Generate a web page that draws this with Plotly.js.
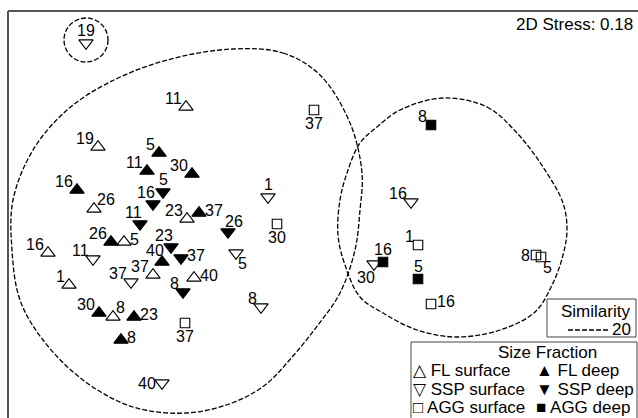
<!DOCTYPE html>
<html>
<head>
<meta charset="utf-8">
<script src="https://cdn.plot.ly/plotly-3.0.1.min.js"></script>
<style>html,body{margin:0;padding:0;background:#fff;}#chart{width:638px;height:418px;}</style>
</head>
<body>
<div id="chart"></div>
<script>
// ---- nMDS ordination coordinates (plot units) ----
const flSurfX   = [186, 98, 94, 187, 124, 48, 69, 153, 194, 113];
const flSurfY   = [107, 147, 209, 219, 242, 253, 285, 275, 278, 317];
const flSurfLab = ['11','19','26','23','5','16','1','37','40','8'];

const flDeepX   = [159, 147, 192, 77, 199, 111, 162, 99, 134, 121];
const flDeepY   = [153, 171, 174, 190, 213, 242, 262, 313, 317, 340];
const flDeepLab = ['5','11','30','16','37','26','40','30','23','8'];

const sspSurfX   = [86, 268, 93, 236, 131, 261, 162, 411, 374];
const sspSurfY   = [43, 197, 259, 253, 282, 307, 383, 202, 264];
const sspSurfLab = ['19','1','11','5','37','8','40','16','30'];

const sspDeepX   = [163, 153, 140, 228, 171, 181, 183];
const sspDeepY   = [192, 204, 224, 232, 247, 258, 292];
const sspDeepLab = ['5','16','11','26','23','37','8'];

const aggSurfX   = [314, 277, 185, 418, 536, 541, 431];
const aggSurfY   = [110, 224, 323, 245, 255, 257, 304];
const aggSurfLab = ['37','30','37','1','8','5','16'];

const aggDeepX   = [431, 383, 418];
const aggDeepY   = [125, 262, 279];
const aggDeepLab = ['8','16','5'];

// label placement codes (style, not data)
const flSurfPos  = ['tl','tl','tr','tl','r','tl','tl','tl','r','tr'];
const flDeepPos  = ['tl','tl','tl','tl','r','tl','tlc','tl','r','r'];
const sspSurfPos = ['tc','tc','tl','br','tl','tl','l','tl','bl'];
const sspDeepPos = ['tc','tlc','tlc','tcr','tlc','r','tl'];
const aggSurfPos = ['b','b','b','tl','l','br','r'];
const aggDeepPos = ['tl','tc','tc'];

// 20% similarity cluster outlines
const clusterAX = [233, 283, 320, 350, 362, 360, 355, 340, 318, 293, 265, 232, 187, 133, 83, 43, 20, 12, 13, 33, 67, 110, 167, 233];
const clusterAY = [49, 53, 75, 123, 173, 210, 250, 293, 325, 356, 385, 403, 413, 407, 380, 340, 300, 250, 200, 150, 110, 82, 60, 49];
const clusterBX = [443, 487, 517, 543, 563, 567, 563, 553, 535, 500, 457, 417, 383, 360, 345, 338, 340, 347, 360, 377, 400, 443];
const clusterBY = [98, 107, 133, 167, 203, 230, 255, 283, 312, 330, 337, 330, 313, 297, 265, 235, 200, 173, 143, 127, 110, 98];
const clusterC = {cx: 86, cy: 40, r: 22};

const stressText = '2D Stress: 0.18';
const similarityLevel = '20';
const legendTitle = 'Size Fraction';
const seriesNames  = ['FL surface','FL deep','SSP surface','SSP deep','AGG surface','AGG deep'];
const seriesGlyphs = ['\u25B3','\u25B2','\u25BD','\u25BC','\u25A1','\u25A0'];

const FONT = 'Liberation Sans, Arial, Helvetica, sans-serif';
const dashStyle = '5px,2px';

const series = [
  {x: flSurfX,  y: flSurfY,  lab: flSurfLab,  pos: flSurfPos,  sym: 'triangle-up-open',   size: 12.5},
  {x: flDeepX,  y: flDeepY,  lab: flDeepLab,  pos: flDeepPos,  sym: 'triangle-up',        size: 12.5},
  {x: sspSurfX, y: sspSurfY, lab: sspSurfLab, pos: sspSurfPos, sym: 'triangle-down-open', size: 12.5},
  {x: sspDeepX, y: sspDeepY, lab: sspDeepLab, pos: sspDeepPos, sym: 'triangle-down',      size: 12.5},
  {x: aggSurfX, y: aggSurfY, lab: aggSurfLab, pos: aggSurfPos, sym: 'square-open',        size: 9.5},
  {x: aggDeepX, y: aggDeepY, lab: aggDeepLab, pos: aggDeepPos, sym: 'square',             size: 9.5}
];

function labelShift(code, w) {
  switch (code) {
    case 'tl':  return [-(w/2 + 4), -9];
    case 'tlc': return [-(w/2 - 2), -12];
    case 'tc':  return [0, -13];
    case 'tcr': return [(w/2 - 3), -11];
    case 'tr':  return [(w/2 + 3), -10];
    case 'r':   return [(w/2 + 6), -3];
    case 'br':  return [(w/2 + 2), 10];
    case 'b':   return [0, 13];
    case 'bl':  return [-(w/2 - 1), 13];
    case 'l':   return [-(w/2 + 6), 0];
  }
  return [0, 0];
}

const traces = [];
traces.push({x: clusterAX, y: clusterAY, mode: 'lines', hoverinfo: 'skip',
  line: {color: '#000', width: 1.3, dash: dashStyle, shape: 'spline', smoothing: 1}});
traces.push({x: clusterBX, y: clusterBY, mode: 'lines', hoverinfo: 'skip',
  line: {color: '#000', width: 1.3, dash: dashStyle, shape: 'spline', smoothing: 1}});

const annotations = [];
series.forEach((s, i) => {
  traces.push({
    x: s.x, y: s.y, mode: 'markers', name: seriesNames[i], text: s.lab,
    marker: {symbol: s.sym, size: s.size, color: '#000', line: {color: '#000', width: 1.1}}
  });
  s.lab.forEach((t, j) => {
    const sh = labelShift(s.pos[j], t.length * 8.9);
    annotations.push({x: s.x[j], y: s.y[j], xref: 'x', yref: 'y', text: t, showarrow: false,
      xanchor: 'center', yanchor: 'middle', xshift: sh[0], yshift: -sh[1],
      font: {family: FONT, size: 16, color: '#000'}});
  });
});

// stress annotation
annotations.push({x: 635, y: 24, xref: 'x', yref: 'y', text: stressText, showarrow: false,
  xanchor: 'right', yanchor: 'middle', font: {family: FONT, size: 17, color: '#000'}});

// similarity key
annotations.push({x: 632, y: 311, xref: 'x', yref: 'y', text: 'Similarity', showarrow: false,
  xanchor: 'right', yanchor: 'middle', font: {family: FONT, size: 17, color: '#000'}});
annotations.push({x: 633, y: 329, xref: 'x', yref: 'y', text: similarityLevel, showarrow: false,
  xanchor: 'right', yanchor: 'middle', font: {family: FONT, size: 17, color: '#000'}});

// size fraction key
annotations.push({x: 547, y: 352, xref: 'x', yref: 'y', text: legendTitle, showarrow: false,
  xanchor: 'center', yanchor: 'middle', font: {family: FONT, size: 17, color: '#000'}});
const colX = [411, 534];
const rowY = [370, 389, 407];
seriesNames.forEach((n, i) => {
  annotations.push({x: colX[i % 2], y: rowY[Math.floor(i / 2)], xref: 'x', yref: 'y',
    text: seriesGlyphs[i] + ' ' + n, showarrow: false, xanchor: 'left', yanchor: 'middle',
    font: {family: FONT, size: 17, color: '#000'}});
});

const shapes = [
  // frame (left and top edges visible)
  {type: 'line', xref: 'paper', yref: 'paper', x0: 0, x1: 0, y0: 0, y1: 1, line: {color: '#555', width: 2}},
  {type: 'line', xref: 'paper', yref: 'paper', x0: 0, x1: 1, y0: 1, y1: 1, line: {color: '#555', width: 2}},
  // isolated cluster
  {type: 'circle', xref: 'x', yref: 'y', x0: clusterC.cx - clusterC.r, x1: clusterC.cx + clusterC.r,
   y0: clusterC.cy - clusterC.r, y1: clusterC.cy + clusterC.r, line: {color: '#000', width: 1.3, dash: dashStyle}},
  // similarity box
  {type: 'rect', xref: 'x', yref: 'y', x0: 547, x1: 636, y0: 299, y1: 337, fillcolor: '#fff',
   line: {color: '#444', width: 1}, layer: 'above'},
  {type: 'line', xref: 'x', yref: 'y', x0: 568, x1: 610, y0: 330, y1: 330,
   line: {color: '#000', width: 1.3, dash: '5px,2px'}, layer: 'above'},
  // size fraction box
  {type: 'rect', xref: 'x', yref: 'y', x0: 411, x1: 637, y0: 342, y1: 440, fillcolor: '#fff',
   line: {color: '#444', width: 1}, layer: 'above'}
];

const layout = {
  width: 638, height: 418,
  margin: {l: 8, r: 0, t: 11, b: 0, pad: 0},
  paper_bgcolor: '#fff', plot_bgcolor: '#fff',
  showlegend: false,
  xaxis: {range: [8, 638], visible: false, fixedrange: true},
  yaxis: {range: [418, 11], visible: false, fixedrange: true},
  shapes: shapes,
  annotations: annotations,
  font: {family: FONT, color: '#000'}
};

Plotly.newPlot('chart', traces, layout, {staticPlot: true, displayModeBar: false});
</script>
</body>
</html>
